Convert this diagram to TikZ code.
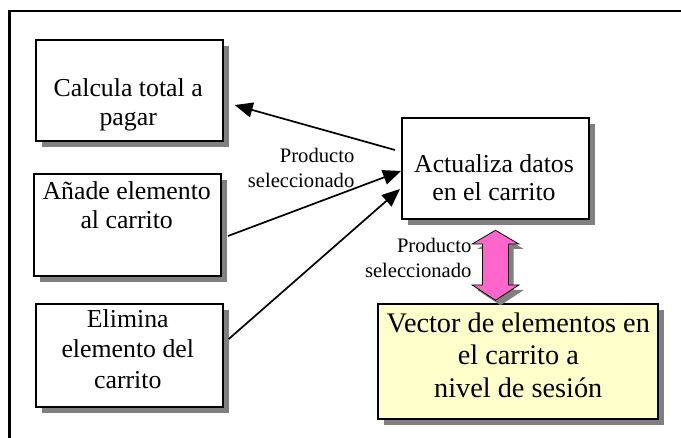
\documentclass[tikz,border=0pt]{standalone}
\usepackage{fontspec}
\setmainfont{Liberation Serif}
\usetikzlibrary{arrows.meta,calc,shadows}
\definecolor{shadowgray}{HTML}{808080}
\definecolor{notefill}{HTML}{FFFFCC}
\definecolor{pinkfill}{HTML}{FF66CC}
\begin{document}
\begin{tikzpicture}[x=1pt,y=-1pt,
  boxshadow/.style={drop shadow={shadow xshift=6pt,shadow yshift=-6pt,fill=shadowgray,opacity=1}},
  box/.style={draw=black,line width=2pt,fill=white,inner sep=0pt,anchor=north west,boxshadow},
  boxtext/.style={inner sep=0pt,anchor=north,align=center,font=\fontsize{25.8}{29}\selectfont},
  lbl/.style={inner sep=0pt,anchor=north east,align=right,font=\fontsize{20.6}{25}\selectfont},
  conn/.style={line width=1.7pt,-{Triangle[length=18pt,width=15pt]}},
  pinkarrow/.style={draw=black,line width=0.8pt,fill=pinkfill,
    drop shadow={shadow xshift=5pt,shadow yshift=-5pt,fill=shadowgray,opacity=1}}]
\useasboundingbox (0,0) rectangle (681,438);
% frame
\draw[line width=2.3pt] (9.5,440) -- (9.5,11.2) -- (683,11.2);
% boxes
\node[box,minimum width=187.5pt,minimum height=101.3pt] (calc) at (34.5,38.7) {};
\node[box,minimum width=187pt,minimum height=102pt] (add) at (33,173) {};
\node[box,minimum width=187.5pt,minimum height=102.5pt] (del) at (34.5,303.5) {};
\node[box,minimum width=186.5pt,minimum height=101pt] (act) at (401,117) {};
\node[box,fill=notefill,minimum width=280pt,minimum height=115pt] (vec) at (377,303) {};
% texts
\node[boxtext] (calct) at (128.2,78.4) {Calcula total a\\pagar};
\node[boxtext] (addt) at (126.7,181.7) {Añade elemento\\al carrito};
\node[boxtext,font=\fontsize{25.8}{30.3}\selectfont] (delt) at (127.8,309.4) {Elimina\\elemento del\\carrito};
\node[boxtext,font=\fontsize{25.8}{28.5}\selectfont] (actt) at (494,154.1) {Actualiza datos\\en el carrito};
\node[boxtext,font=\fontsize{28.3}{32.5}\selectfont] (vect) at (518.3,312.4) {Vector de elementos en\\el carrito a\\nivel de sesión};
% labels
\node[lbl] (lbl1) at (354.5,147.6) {Producto\\seleccionado};
\node[lbl] (lbl2) at (471.6,237.9) {Producto\\seleccionado};
% connectors
\draw[conn] ($(act.north west)+(-6,33)$) -- ($(calc.east)+(10.7,14.7)$);
\draw[conn] ($(add.east)+(6,11)$) -- ($(act.west)+(0,2.5)$);
\draw[conn] ($(del.east)+(4.7,-16.7)$) -- ($(act.west)+(-1,20.5)$);
% double arrow between act and vec
\coordinate (dtop) at ($(act.south)+(0.25,10.3)$);
\draw[pinkarrow] (dtop) -- ++(23.3,13.7) -- ++(-10.3,0) -- ++(0,41) -- ++(10.3,0)
  -- ++(-23.3,15.3) -- ++(-23.3,-15.3) -- ++(10.3,0) -- ++(0,-41) -- ++(-10.3,0) -- cycle;
\end{tikzpicture}
\end{document}
